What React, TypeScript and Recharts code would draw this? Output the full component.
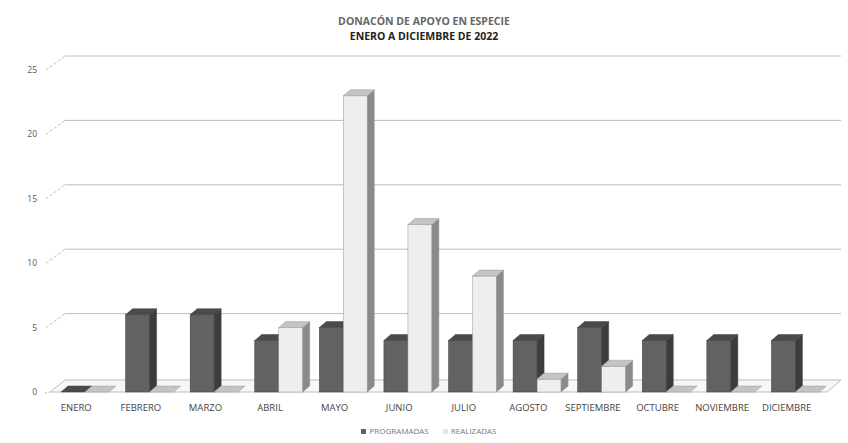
import React from "react";
import { BarChart, Bar, XAxis, YAxis, CartesianGrid } from "recharts";

const months = ["ENERO", "FEBRERO", "MARZO", "ABRIL", "MAYO", "JUNIO", "JULIO", "AGOSTO", "SEPTIEMBRE", "OCTUBRE", "NOVIEMBRE", "DICIEMBRE"];
const programadas = [0, 6, 6, 4, 5, 4, 4, 4, 5, 4, 4, 4];
const realizadas = [0, 0, 0, 5, 23, 13, 9, 1, 2, 0, 0, 0];
const yTicks = [0, 5, 10, 15, 20, 25];
const titleLine1 = "DONACÓN DE APOYO EN ESPECIE";
const titleLine2 = "ENERO A DICIEMBRE DE 2022";
const seriesNames = ["PROGRAMADAS", "REALIZADAS"];

const data = months.map((m, i) => ({ mes: m, programadas: programadas[i], realizadas: realizadas[i] }));

const FONT = "'Open Sans', 'DejaVu Sans', sans-serif";
const DX = 7;
const DY = 6;

const make3D = (front: string, top: string, side: string, stroke: string) => (props: any) => {
  const { x, y, width, height } = props;
  if (x == null || y == null) return null;
  const h = Math.max(0, height || 0);
  const w = width;
  return (
    <g>
      {h > 0 && <rect x={x} y={y} width={w} height={h} fill={front} stroke={stroke} strokeWidth={0.5} />}
      {h > 0 && (
        <polygon
          points={`${x + w},${y} ${x + w + DX},${y - DY} ${x + w + DX},${y + h - DY} ${x + w},${y + h}`}
          fill={side}
          stroke={stroke}
          strokeWidth={0.5}
        />
      )}
      <polygon
        points={`${x},${y} ${x + w},${y} ${x + w + DX},${y - DY} ${x + DX},${y - DY}`}
        fill={top}
        stroke={stroke}
        strokeWidth={0.5}
      />
    </g>
  );
};

const darkShape = make3D("#626262", "#4a4a4a", "#3c3c3c", "#404040");
const lightShape = make3D("#eeeeee", "#c4c4c4", "#8a8a8a", "#9a9a9a");

const gridLine = (props: any) => {
  const { x1, x2, y1, index } = props;
  const ox = 13;
  const oy = 12;
  if (Math.abs(y1 - 392) < 1) {
    return (
      <g key={`g-${index}`}>
        <polygon
          points={`${x1 - 3},${y1} ${x2 - 1},${y1} ${x2 + ox},${y1 - oy} ${x1 + 12},${y1 - oy}`}
          fill="#f7f7f7"
          stroke="#bdbdbd"
          strokeWidth={1}
        />
        <line x1={x1 - 8} y1={y1 + 1} x2={x1 - 3} y2={y1} stroke="#bbb" strokeDasharray="2 2" />
      </g>
    );
  }
  return (
    <g key={`g-${index}`}>
      <line x1={x1 - 7} y1={y1} x2={x1 + 12} y2={y1 - oy - 2} stroke="#bdbdbd" strokeDasharray="3 2" />
      <line x1={x1 + 12} y1={y1 - oy - 2} x2={x2 + ox} y2={y1 - oy - 2} stroke="#bdbdbd" strokeWidth={1} />
    </g>
  );
};

const XTick = (props: any) => {
  const { x, y, payload } = props;
  return (
    <text x={x - 9} y={y + 11} textAnchor="middle" fontSize={9.5} fill="#444" fontFamily={FONT}>
      {payload.value}
    </text>
  );
};

const YTick = (props: any) => {
  const { y, payload } = props;
  return (
    <text x={37} y={y + 3} textAnchor="end" fontSize={8.5} fill="#555" fontFamily={FONT}>
      {payload.value}
    </text>
  );
};

export default function App() {
  return (
    <div style={{ position: "absolute", left: 0, top: 0, width: 848, height: 443, background: "#fff", fontFamily: FONT }}>
      <div style={{ position: "absolute", top: 14, left: 0, width: 848, textAlign: "center", fontSize: 10.5, fontWeight: 700, color: "#666", lineHeight: "14px" }}>
        {titleLine1}
      </div>
      <div style={{ position: "absolute", top: 29, left: 0, width: 848, textAlign: "center", fontSize: 10.5, fontWeight: 700, color: "#222", lineHeight: "14px" }}>
        {titleLine2}
      </div>
      <BarChart
        width={848}
        height={443}
        data={data}
        margin={{ top: 70, right: 20, bottom: 21, left: 0 }}
        barGap={0}
        barSize={24}
      >
        <CartesianGrid vertical={false} horizontal={gridLine as any} />
        <XAxis dataKey="mes" axisLine={false} tickLine={false} height={30} tick={<XTick />} interval={0} />
        <YAxis width={53} domain={[0, 25]} ticks={yTicks} axisLine={false} tickLine={false} tick={<YTick />} />
        <Bar dataKey="programadas" name={seriesNames[0]} fill="#626262" shape={darkShape} isAnimationActive={false} />
        <Bar dataKey="realizadas" name={seriesNames[1]} fill="#eeeeee" shape={lightShape} isAnimationActive={false} />
      </BarChart>
      <div style={{ position: "absolute", top: 425, left: 0, width: 848, display: "flex", justifyContent: "center", fontSize: 8, color: "#777", gap: 14, lineHeight: "12px", paddingLeft: 10, boxSizing: "border-box" }}>
        <span style={{ display: "flex", alignItems: "center", gap: 3 }}>
          <span style={{ width: 5, height: 5, background: "#626262", display: "inline-block" }} />
          {seriesNames[0]}
        </span>
        <span style={{ display: "flex", alignItems: "center", gap: 3 }}>
          <span style={{ width: 5, height: 5, background: "#e6e6e6", display: "inline-block" }} />
          {seriesNames[1]}
        </span>
      </div>
    </div>
  );
}
